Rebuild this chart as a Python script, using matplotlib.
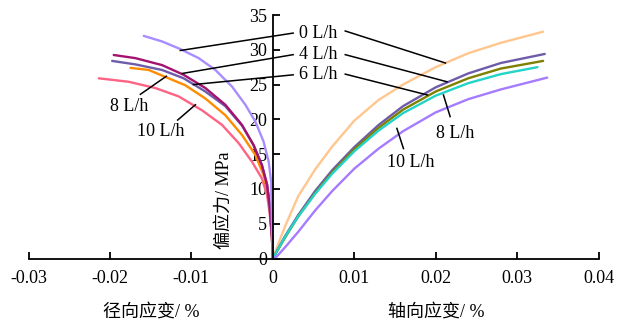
import matplotlib
matplotlib.use("Agg")
import matplotlib.pyplot as plt

plt.rcParams['font.family'] = ['Liberation Serif', 'Noto Sans CJK SC']

# ---------------- data ----------------
flow_labels = ['0 L/h', '4 L/h', '6 L/h', '8 L/h', '10 L/h']

# axial strain (%) vs deviatoric stress (MPa)
ax0_x = [0, 0.0008, 0.0015, 0.0031, 0.0052, 0.0073, 0.0100, 0.0130, 0.0160, 0.0200, 0.0240, 0.0280, 0.0332]
ax0_y = [0, 2.5, 4.6, 8.9, 12.8, 16.1, 19.8, 22.8, 25.0, 27.5, 29.5, 31.0, 32.6]
ax4_x = [0, 0.0015, 0.0031, 0.0052, 0.0073, 0.0100, 0.0130, 0.0160, 0.0200, 0.0240, 0.0280, 0.0334]
ax4_y = [0, 3.2, 6.2, 9.7, 12.7, 16.0, 19.2, 21.9, 24.6, 26.6, 28.1, 29.4]
ax6_x = [0, 0.0015, 0.0031, 0.0052, 0.0073, 0.0100, 0.0130, 0.0160, 0.0200, 0.0240, 0.0280, 0.0332]
ax6_y = [0, 3.0, 6.0, 9.4, 12.4, 15.7, 18.8, 21.4, 24.0, 25.9, 27.3, 28.4]
ax8_x = [0, 0.0015, 0.0031, 0.0052, 0.0073, 0.0100, 0.0130, 0.0160, 0.0200, 0.0240, 0.0280, 0.0325]
ax8_y = [0, 3.1, 6.0, 9.3, 12.2, 15.4, 18.4, 20.9, 23.4, 25.2, 26.5, 27.5]
ax10_x = [0, 0.0005, 0.0015, 0.0031, 0.0052, 0.0073, 0.0100, 0.0130, 0.0160, 0.0200, 0.0240, 0.0280, 0.0337]
ax10_y = [0, 0.3, 1.6, 3.8, 6.9, 9.7, 12.9, 15.8, 18.3, 21.0, 22.9, 24.3, 26.0]

# radial strain (%) vs deviatoric stress (MPa)
rad0_x = [0, -0.0001, -0.0002, -0.0005, -0.00113, -0.00215, -0.00337, -0.0050, -0.00705, -0.0091, -0.01135, -0.0136, -0.01585]
rad0_y = [0, 4.8, 11.0, 13.9, 16.8, 19.7, 22.1, 24.7, 27.1, 28.8, 30.1, 31.2, 32.0]
rad4_x = [0, -0.0001, -0.0004, -0.0007, -0.00133, -0.00236, -0.00378, -0.00583, -0.00828, -0.01094, -0.0136, -0.01687, -0.01953]
rad4_y = [0, 3.0, 7.7, 10.6, 13.4, 16.3, 19.2, 22.1, 24.5, 26.4, 27.8, 28.8, 29.25]
rad6_x = [0, -0.0001, -0.0004, -0.0007, -0.00133, -0.00236, -0.00378, -0.00583, -0.00828, -0.01094, -0.0136, -0.01687, -0.01973]
rad6_y = [0, 3.0, 7.7, 10.6, 13.4, 16.3, 19.1, 21.9, 24.0, 25.9, 27.1, 27.9, 28.4]
rad8_x = [0, -0.0001, -0.0005, -0.00113, -0.00215, -0.00378, -0.00583, -0.00828, -0.01074, -0.0132, -0.01524, -0.01748]
rad8_y = [0, 3.0, 9.1, 12.0, 14.9, 17.75, 20.6, 23.0, 24.9, 26.1, 27.1, 27.4]
rad10_x = [0, -0.0001, -0.0004, -0.0007, -0.00133, -0.00255, -0.0042, -0.00623, -0.00869, -0.01156, -0.01442, -0.01769, -0.02137]
rad10_y = [0, 3.0, 6.7, 9.1, 11.5, 13.9, 16.6, 19.2, 21.3, 23.3, 24.5, 25.4, 25.9]

x_ticks = [-0.03, -0.02, -0.01, 0, 0.01, 0.02, 0.03, 0.04]
x_ticklabels = ['-0.03', '-0.02', '-0.01', '0', '0.01', '0.02', '0.03', '0.04']
y_ticks = [0, 5, 10, 15, 20, 25, 30, 35]

# ---------------- figure ----------------
W, H = 619, 322
fig = plt.figure(figsize=(W / 100, H / 100), dpi=100)
ax = fig.add_axes([28.5 / W, (H - 258.5) / H, 570 / W, 243.5 / H])
ax.set_xlim(-0.03, 0.04)
ax.set_ylim(0, 35)

lw = 1.7
kw = dict(lw=lw, solid_joinstyle='round', solid_capstyle='round')
# radial curves
ax.plot(rad10_x, rad10_y, color='#FF6384', **kw)
ax.plot(rad8_x, rad8_y, color='#FF8C00', **kw)
ax.plot(rad6_x, rad6_y, color='#6E5CAA', **kw)
ax.plot(rad4_x, rad4_y, color='#A3126F', **kw)
ax.plot(rad0_x, rad0_y, color='#A98CFF', **kw)
# axial curves
ax.plot(ax0_x, ax0_y, color='#FFC68E', **kw)
ax.plot(ax4_x, ax4_y, color='#6E5CAA', **kw)
ax.plot(ax6_x, ax6_y, color='#7F8000', **kw)
ax.plot(ax8_x, ax8_y, color='#22D3C8', **kw)
ax.plot(ax10_x, ax10_y, color='#A57BFF', **kw)

# spines / ticks
for s in ['top', 'right']:
    ax.spines[s].set_visible(False)
ax.spines['left'].set_position(('data', 0))
for s in ['left', 'bottom']:
    ax.spines[s].set_linewidth(1.3)
ax.set_xticks(x_ticks)
ax.set_xticklabels(x_ticklabels)
ax.set_yticks(y_ticks)
ax.tick_params(axis='both', direction='in', length=5, width=1.3, labelsize=13)
ax.tick_params(axis='x', pad=8)
ax.tick_params(axis='y', pad=4)

# annotations: label position, line start, line end (data coordinates)
ann_fs = 13
def label_line(text, tx, ty, p0, p1):
    ax.text(tx, ty, text, ha='center', va='center', fontsize=ann_fs)
    ax.plot([p0[0], p1[0]], [p0[1], p1[1]], color='black', lw=1.1)

mid_x = 0.00562
ax.text(mid_x, 32.4, '0 L/h', ha='center', va='center', fontsize=ann_fs)
ax.text(mid_x, 29.3, '4 L/h', ha='center', va='center', fontsize=ann_fs)
ax.text(mid_x, 26.4, '6 L/h', ha='center', va='center', fontsize=ann_fs)
# left-hand leader lines
ax.plot([0.0025, -0.01135], [32.4, 29.9], color='black', lw=1.1)
ax.plot([0.0025, -0.0111], [29.3, 26.6], color='black', lw=1.1)
ax.plot([0.0025, -0.00975], [26.4, 25.0], color='black', lw=1.1)
# right-hand leader lines
ax.plot([0.0089, 0.0212], [32.7, 28.1], color='black', lw=1.1)
ax.plot([0.0089, 0.0214], [29.3, 25.4], color='black', lw=1.1)
ax.plot([0.0089, 0.0190], [26.5, 23.5], color='black', lw=1.1)

label_line('8 L/h', 0.0224, 18.0, (0.02096, 23.5), (0.02178, 20.4))
label_line('10 L/h', 0.0169, 13.8, (0.01524, 18.7), (0.01605, 15.8))
label_line('8 L/h', -0.0176, 21.9, (-0.01626, 23.6), (-0.01307, 26.2))
label_line('10 L/h', -0.0138, 18.3, (-0.01168, 19.9), (-0.0095, 22.1))

# axis titles
ax.text(-0.00595, 8.4, '偏应力/ MPa', rotation=90, ha='center', va='center', fontsize=13)
fig.text(151 / W, 1 - 312 / H, '径向应变/ %', ha='center', va='center', fontsize=13)
fig.text(436 / W, 1 - 312 / H, '轴向应变/ %', ha='center', va='center', fontsize=13)

fig.savefig('out.png', dpi=100)
